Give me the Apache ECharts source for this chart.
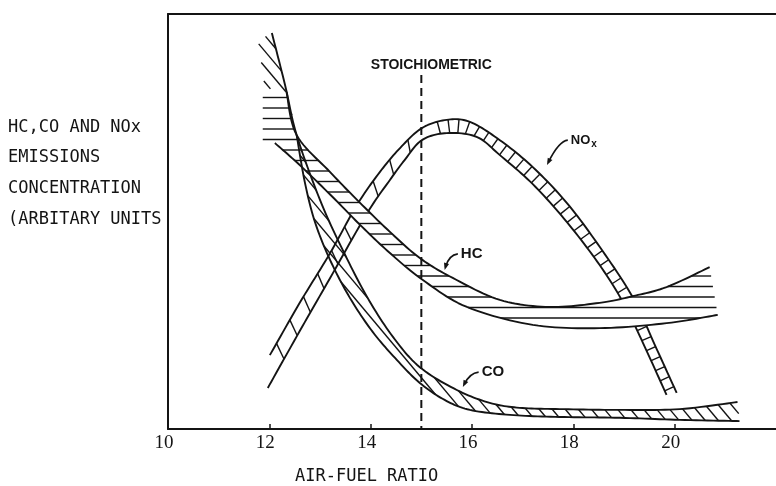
<!DOCTYPE html>
<html>
<head>
<meta charset="utf-8">
<script src="https://cdn.jsdelivr.net/npm/echarts@6/dist/echarts.min.js"></script>
<style>
  html, body { margin: 0; padding: 0; background: #fff; }
  #chart { width: 776px; height: 486px; }
</style>
</head>
<body>
<div id="chart"></div>
<script>
// Emission bands versus air-fuel ratio; y is in arbitrary units (0-100).
const xTicks = [12, 14, 16, 18, 20];
const xLabels = [10, 12, 14, 16, 18, 20];
const xTitle = 'AIR-FUEL RATIO';
const yTitle = ['HC,CO AND NOx', 'EMISSIONS', 'CONCENTRATION', '(ARBITARY UNITS'];

const stoichRatio = 15.0;
const stoichTop = 85.3;
const stoichText = 'STOICHIOMETRIC';

// HC band: upper and lower limits, plus the open left end of the hatching
const hcUpper = [[12.34, 81.2], [12.54, 70.8], [13.20, 61.9], [13.79, 54.5], [14.38, 47.5], [14.97, 41.2],
  [15.62, 36.4], [16.55, 31.1], [17.53, 29.4], [18.52, 30.4], [19.17, 32.0], [19.84, 34.2], [20.69, 39.0]];
const hcLower = [[12.11, 68.9], [12.60, 63.6], [13.25, 55.9], [13.79, 49.2], [14.38, 42.4], [15.03, 35.9],
  [15.90, 29.4], [17.20, 25.1], [18.52, 24.3], [19.84, 25.5], [20.85, 27.5]];
const hcOpenEnd = [[11.87, 69.6], [11.87, 80.5]];

// CO band
const coUpper = [[12.05, 95.4], [12.31, 82.9], [12.54, 70.8], [13.00, 55.2], [13.45, 43.1], [13.94, 31.6],
  [14.44, 22.2], [14.97, 14.9], [15.70, 9.4], [16.35, 6.3], [16.94, 5.1], [17.73, 4.8], [18.92, 4.6],
  [20.10, 4.8], [21.24, 6.5]];
const coLower = [[12.54, 70.8], [12.70, 59.5], [12.90, 49.9], [13.20, 40.7], [13.59, 31.6], [14.04, 23.4],
  [14.52, 16.6], [14.97, 11.1], [15.46, 7.0], [15.96, 4.6], [16.75, 3.4], [17.73, 2.9], [18.92, 2.7],
  [20.10, 2.2], [21.28, 1.9]];
const coOpenEnd = [[12.35, 81.2], [11.91, 82.2], [11.78, 93.7]];

// NOx band
const noxOuter = [[12.01, 17.8], [12.60, 30.4], [13.20, 42.4], [13.73, 54.0], [14.18, 61.9], [14.58, 67.7],
  [15.01, 72.5], [15.50, 74.5], [15.96, 74.0], [16.55, 69.6], [17.20, 63.1], [17.87, 54.5], [18.52, 43.9],
  [19.17, 31.8], [19.61, 20.2], [20.04, 8.7]];
const noxInner = [[11.97, 9.9], [12.60, 23.6], [13.20, 36.4], [13.93, 52.0], [14.38, 60.0], [14.67, 64.8],
  [15.01, 69.6], [15.50, 71.3], [16.09, 70.4], [16.55, 66.0], [17.20, 59.0], [17.87, 49.9], [18.52, 39.5],
  [19.01, 29.9], [19.41, 19.8], [19.84, 8.2]];

// Callout labels: where the text starts and where its arrow points
const callouts = [
  { name: 'NOx', text: [17.95, 69.6], tip: [17.48, 63.6] },
  { name: 'HC', text: [15.78, 42.2], tip: [15.46, 38.3] },
  { name: 'CO', text: [16.19, 13.7], tip: [15.82, 10.1] }
];

const INK = '#141414';
const LABEL_FONT = '"Liberation Sans", Arial, sans-serif';
const TYPE_FONT = '"DejaVu Sans Mono", monospace';

// ---- geometry helpers -------------------------------------------------
function catmullRom(pts, steps) {
  const out = [];
  const n = pts.length;
  for (let i = 0; i < n - 1; i++) {
    const p0 = pts[Math.max(i - 1, 0)], p1 = pts[i], p2 = pts[i + 1], p3 = pts[Math.min(i + 2, n - 1)];
    for (let j = 0; j < steps; j++) {
      const t = j / steps, t2 = t * t, t3 = t2 * t;
      const f = k => 0.5 * (2 * p1[k] + (-p0[k] + p2[k]) * t +
        (2 * p0[k] - 5 * p1[k] + 4 * p2[k] - p3[k]) * t2 +
        (-p0[k] + 3 * p1[k] - 3 * p2[k] + p3[k]) * t3);
      out.push([f(0), f(1)]);
    }
  }
  out.push(pts[n - 1].slice());
  return out;
}

// parallel hatch lines at a given angle, clipped to a polygon (even-odd)
function scanHatch(poly, angleDeg, gap, phase) {
  const a = angleDeg * Math.PI / 180;
  const d = [Math.cos(a), Math.sin(a)], nv = [-Math.sin(a), Math.cos(a)];
  const uv = poly.map(p => [p[0] * d[0] + p[1] * d[1], p[0] * nv[0] + p[1] * nv[1]]);
  let vmin = Infinity, vmax = -Infinity;
  uv.forEach(p => { vmin = Math.min(vmin, p[1]); vmax = Math.max(vmax, p[1]); });
  const segs = [];
  for (let v = Math.ceil((vmin - phase) / gap) * gap + phase; v <= vmax; v += gap) {
    const us = [];
    for (let i = 0; i < uv.length; i++) {
      const p = uv[i], q = uv[(i + 1) % uv.length];
      if ((p[1] <= v && q[1] > v) || (q[1] <= v && p[1] > v)) {
        const t = (v - p[1]) / (q[1] - p[1]);
        us.push(p[0] + t * (q[0] - p[0]));
      }
    }
    us.sort((x, y) => x - y);
    for (let i = 0; i + 1 < us.length; i += 2) {
      if (us[i + 1] - us[i] < 1.5) continue;
      segs.push([us[i] * d[0] + v * nv[0], us[i] * d[1] + v * nv[1],
                 us[i + 1] * d[0] + v * nv[0], us[i + 1] * d[1] + v * nv[1]]);
    }
  }
  return segs;
}

function nearestHit(px, py, rx, ry, B, maxLen) {
  let best = null;
  for (let j = 0; j < B.length - 1; j++) {
    const q0 = B[j], q1 = B[j + 1];
    const ex = q1[0] - q0[0], ey = q1[1] - q0[1];
    const den = rx * ey - ry * ex;
    if (Math.abs(den) < 1e-9) continue;
    const wx = q0[0] - px, wy = q0[1] - py;
    const lam = (wx * ey - wy * ex) / den;
    const mu = (wx * ry - wy * rx) / den;
    if (mu < 0 || mu > 1 || Math.abs(lam) > maxLen) continue;
    if (best === null || Math.abs(lam) < Math.abs(best)) best = lam;
  }
  return best;
}

// rungs across a band: walk along edge A and shoot across to edge B
function rungHatch(A, B, gap, tiltDeg, xMin, xMax) {
  const segs = [];
  const c = Math.cos(tiltDeg * Math.PI / 180), s = Math.sin(tiltDeg * Math.PI / 180);
  let carry = gap / 2;
  for (let i = 0; i < A.length - 1; i++) {
    const p = A[i], q = A[i + 1];
    const dx = q[0] - p[0], dy = q[1] - p[1], L = Math.hypot(dx, dy);
    if (L === 0) continue;
    const tx = dx / L, ty = dy / L;
    let d = carry;
    while (d <= L) {
      const x = p[0] + tx * d, y = p[1] + ty * d;
      if (x >= xMin && x <= xMax) {
        const rx = -ty * c - tx * s, ry = -ty * s + tx * c;
        const lam = nearestHit(x, y, rx, ry, B, 40);
        if (lam !== null) segs.push([x, y, x + lam * rx, y + lam * ry]);
      }
      d += gap;
    }
    carry = d - L;
  }
  return segs;
}

// ---- band renderer --------------------------------------------------------
const bands = {
  NOx: { upper: noxOuter, lower: noxInner, fill: null,
         hatch: { kind: 'rung', parts: [{ from: 15.25, to: 30, gap: 11, tilt: 0 },
                                         { from: 0, to: 15.0, gap: 27, tilt: 35 }] } },
  HC:  { upper: hcUpper, lower: hcLower, openEnd: hcOpenEnd, fill: '#ffffff',
         hatch: { kind: 'scan', angle: 0, gap: 10.5, phase: 3 } },
  CO:  { upper: coUpper, lower: coLower, openEnd: coOpenEnd, fill: null,
         hatch: { kind: 'scan', angle: 50, gap: 10, phase: 0 } }
};

function renderBand(api, band) {
  const px = pts => pts.map(p => api.coord(p));
  const A = catmullRom(px(band.upper), 12);
  const B = catmullRom(px(band.lower), 12);
  const poly = A.concat(B.slice().reverse(), band.openEnd ? px(band.openEnd) : []);
  const children = [];
  if (band.fill) {
    children.push({ type: 'polygon', shape: { points: poly }, style: { fill: band.fill, stroke: null } });
  }
  let segs = [];
  if (band.hatch.kind === 'scan') {
    segs = scanHatch(poly, band.hatch.angle, band.hatch.gap, band.hatch.phase);
  } else {
    band.hatch.parts.forEach(part => {
      const x0 = api.coord([part.from, 0])[0], x1 = api.coord([part.to, 0])[0];
      segs = segs.concat(rungHatch(A, B, part.gap, part.tilt, x0, x1));
    });
  }
  segs.forEach(sg => children.push({
    type: 'line', shape: { x1: sg[0], y1: sg[1], x2: sg[2], y2: sg[3] },
    style: { stroke: INK, lineWidth: 1.4 }
  }));
  [A, B].forEach(edge => children.push({
    type: 'polyline', shape: { points: edge },
    style: { fill: 'none', stroke: INK, lineWidth: 1.9, lineJoin: 'round' }
  }));
  return { type: 'group', children };
}

function bandSeries(name, z) {
  return {
    type: 'custom', name, z, silent: true,
    coordinateSystem: 'cartesian2d',
    data: [[10, 0]],
    renderItem: (params, api) => renderBand(api, bands[name])
  };
}

const measureCtx = document.createElement('canvas').getContext('2d');
function textWidth(str, font) { measureCtx.font = font; return measureCtx.measureText(str).width; }

function renderCallout(params, api) {
  const c = callouts[params.dataIndex];
  const t = api.coord(c.text), tip = api.coord(c.tip);
  const sx = t[0] - 3, sy = t[1];
  const ctrl = [sx - 9, sy + 1];
  const ux0 = tip[0] - ctrl[0], uy0 = tip[1] - ctrl[1], ul = Math.hypot(ux0, uy0);
  const ux = ux0 / ul, uy = uy0 / ul;
  const children = [
    { type: 'path',
      shape: { pathData: `M${sx},${sy} Q${ctrl[0]},${ctrl[1]} ${tip[0] - ux * 3},${tip[1] - uy * 3}` },
      style: { fill: 'none', stroke: INK, lineWidth: 1.6 } },
    { type: 'polygon',
      shape: { points: [tip, [tip[0] - ux * 7 - uy * 2.6, tip[1] - uy * 7 + ux * 2.6],
                        [tip[0] - ux * 7 + uy * 2.6, tip[1] - uy * 7 - ux * 2.6]] },
      style: { fill: INK } }
  ];
  if (c.name === 'NOx') {
    const f1 = `bold 13px ${LABEL_FONT}`;
    children.push({ type: 'text', x: t[0], y: t[1],
      style: { text: 'NO', font: f1, fill: INK, align: 'left', verticalAlign: 'middle' } });
    children.push({ type: 'text', x: t[0] + textWidth('NO', f1) + 1, y: t[1] + 4,
      style: { text: 'x', font: `bold 10px ${LABEL_FONT}`, fill: INK, align: 'left', verticalAlign: 'middle' } });
  } else {
    children.push({ type: 'text', x: t[0], y: t[1],
      style: { text: c.name, font: `bold 15px ${LABEL_FONT}`, fill: INK, align: 'left', verticalAlign: 'middle' } });
  }
  return { type: 'group', children };
}

function renderStoich(params, api) {
  const bottom = api.coord([stoichRatio, 0]);
  const top = api.coord([stoichRatio, stoichTop]);
  return { type: 'group', children: [
    { type: 'line', shape: { x1: top[0], y1: top[1], x2: bottom[0], y2: bottom[1] },
      style: { stroke: INK, lineWidth: 2, lineDash: [8, 5] } },
    { type: 'text', x: top[0] + 10, y: top[1] - 10,
      style: { text: stoichText, font: `bold 14px ${LABEL_FONT}`, fill: INK, align: 'center', verticalAlign: 'middle' } }
  ] };
}

const chart = echarts.init(document.getElementById('chart'), null, { renderer: 'canvas' });
chart.setOption({
  animation: false,
  backgroundColor: '#ffffff',
  grid: { left: 168, right: 0, top: 14, bottom: 57 },
  xAxis: [{
    type: 'value', min: 10, max: 22, interval: 2, position: 'bottom',
    axisLine: { show: true, onZero: false, lineStyle: { color: INK, width: 2 } },
    axisTick: { show: true, inside: true, length: 5, customValues: xTicks, lineStyle: { color: INK, width: 1.5 } },
    axisLabel: { show: true, customValues: xLabels, margin: 5, color: INK, padding: [0, 8, 0, 0],
                 fontFamily: '"Liberation Serif", serif', fontSize: 19,
                 formatter: v => (v > 20 ? '' : String(v)) },
    splitLine: { show: false }
  }, {
    type: 'value', min: 10, max: 22, position: 'top',
    axisLine: { show: true, onZero: false, lineStyle: { color: INK, width: 2 } },
    axisTick: { show: false }, axisLabel: { show: false }, splitLine: { show: false }
  }],
  yAxis: {
    type: 'value', min: 0, max: 100,
    axisLine: { show: true, onZero: false, lineStyle: { color: INK, width: 2 } },
    axisTick: { show: false }, axisLabel: { show: false }, splitLine: { show: false }
  },
  graphic: [
    { type: 'text', left: 8, top: 112,
      style: { text: yTitle.join('\n'), font: `17px ${TYPE_FONT}`, lineHeight: 30.7, fill: INK } },
    { type: 'text', left: 295, top: 468,
      style: { text: xTitle, font: `17px ${TYPE_FONT}`, fill: INK } }
  ],
  series: [
    bandSeries('NOx', 2),
    bandSeries('HC', 3),
    bandSeries('CO', 4),
    { type: 'custom', name: 'stoichiometric', z: 6, silent: true, coordinateSystem: 'cartesian2d',
      data: [[stoichRatio, 0]], renderItem: renderStoich },
    { type: 'custom', name: 'callouts', z: 7, silent: true, coordinateSystem: 'cartesian2d',
      data: callouts.map(c => c.tip), renderItem: renderCallout }
  ]
});
</script>
</body>
</html>
